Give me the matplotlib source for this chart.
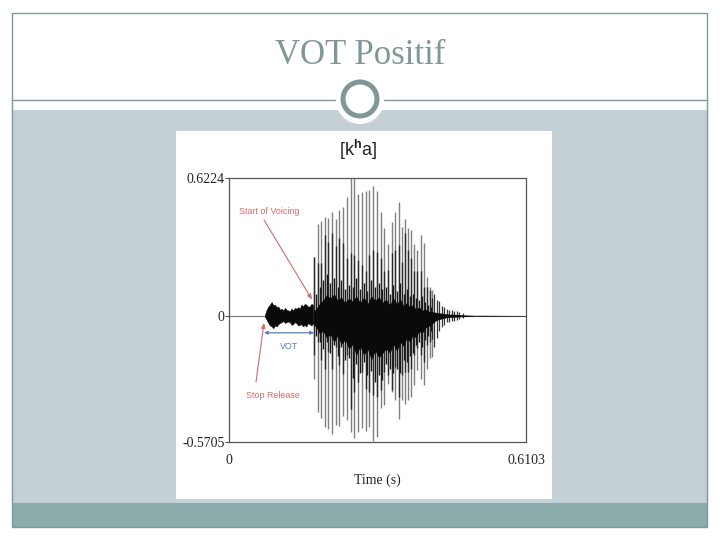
import matplotlib
matplotlib.use("Agg")
import matplotlib.pyplot as plt
from matplotlib.patches import Rectangle, Circle

plt.rcParams["mathtext.fontset"] = "custom"
plt.rcParams["mathtext.rm"] = "Liberation Sans"
plt.rcParams["mathtext.bf"] = "Liberation Sans:bold"

# ---- data: waveform (time in s, amplitude) ----
spike_t = [.1747,.1823,.1897,.1967,.2041,.2123,.2199,.2267,.2343,.2425,.2507,.2575,.2657,.2733,.2809,.2883,.2965,.3041,
           .3117,.3191,.3267,.3343,.3411,.3487,.3555,.3623,.3685,.3747,.3808,.3870,.3939,.4001,.4063,.4124,.4178]
spike_up = [.267,.415,.430,.448,.440,.468,.436,.478,.490,.535,.621,.621,.549,.561,.565,.568,.586,.565,
            .470,.395,.323,.425,.468,.516,.403,.436,.398,.386,.323,.298,.365,.328,.177,.132,.117]
spike_low = [-.284,-.435,-.462,-.503,-.510,-.533,-.495,-.498,-.453,-.473,-.525,-.553,-.525,-.507,-.522,-.503,-.568,-.548,
             -.417,-.402,-.307,-.344,-.382,-.465,-.382,-.397,-.382,-.367,-.314,-.246,-.284,-.314,-.239,-.193,-.186]
inner_up = [.267,.238,.238,.365,.335,.373,.313,.350,.328,.260,.283,.275,.253,.230,.200,.275,.298,.290,
            .260,.200,.207,.283,.298,.320,.245,.373,.298,.260,.200,.200,.200,.132,.132,.117,.080]
inner_low = [-.178,-.118,-.201,-.239,-.163,-.239,-.140,-.223,-.261,-.178,-.420,-.344,-.299,-.254,-.329,-.344,-.359,-.367,
             -.337,-.254,-.269,-.337,-.231,-.367,-.269,-.254,-.254,-.239,-.178,-.148,-.178,-.208,-.133,-.118,-.103]

mid_t = [.1785,.1860,.1932,.2004,.2082,.2161,.2233,.2305,.2384,.2466,.2541,.2616,.2695,.2771,.2846,.2924,.3003,.3079,
         .3154,.3229,.3305,.3377,.3449,.3521,.3589,.3654,.3716,.3778,.3839,.3905,.3970,.4032,.4094,.4151]
mid_up = [.10,.13,.16,.19,.15,.17,.13,.16,.12,.14,.13,.17,.12,.15,.11,.16,.13,.15,
          .12,.13,.10,.14,.11,.15,.10,.12,.09,.10,.08,.07,.09,.06,.05,.04]
mid_low = [-.09,-.12,-.15,-.12,-.17,-.13,-.18,-.14,-.20,-.19,-.28,-.22,-.26,-.21,-.27,-.25,-.30,-.27,
           -.29,-.22,-.24,-.26,-.24,-.26,-.20,-.21,-.18,-.17,-.13,-.12,-.14,-.11,-.09,-.07]

burst_t = [.0740,.0774,.0808,.0842,.0876,.0910,.0944,.0978,.1012,.1046,.1080,.1114,.1148,.1182,.1216,
           .1250,.1284,.1318,.1352,.1386,.1420,.1454,.1488,.1522,.1556,.1590,.1624,.1658,.1692,.1726]
burst_up = [.005,.027,.042,.050,.062,.047,.050,.038,.042,.027,.032,.023,.035,.027,.024,
            .020,.032,.024,.035,.032,.038,.032,.050,.042,.053,.050,.041,.042,.053,.050]
burst_low = [-.005,-.018,-.033,-.044,-.048,-.056,-.044,-.048,-.038,-.033,-.029,-.023,-.032,-.029,-.026,
             -.029,-.041,-.038,-.029,-.033,-.044,-.041,-.038,-.048,-.041,-.048,-.033,-.038,-.044,-.033]

body_t = [.1726,.1785,.1860,.1932,.2004,.2082,.2161,.2233,.2305,.2384,.2466,.2541,.2616,.2695,.2771,.2846,.2924,.3003,.3079,
          .3154,.3229,.3305,.3377,.3449,.3521,.3589,.3654,.3716,.3778,.3839,.3905,.3970,.4032,.4094,.4151,.4268,.4370,.4473,.4576,.4679,.4815,.4918,.5055,.5295,.6103]
body_up = [.02,.03,.055,.07,.095,.08,.10,.07,.085,.06,.08,.065,.09,.06,.085,.055,.09,.07,.085,
           .06,.075,.05,.08,.055,.075,.045,.06,.04,.05,.03,.04,.025,.03,.02,.02,.014,.012,.008,.007,.006,.004,.003,.002,.002,.001]
body_low = [-.04,-.05,-.08,-.07,-.10,-.085,-.12,-.09,-.13,-.11,-.15,-.13,-.18,-.14,-.18,-.15,-.20,-.16,-.19,
            -.17,-.15,-.17,-.13,-.16,-.12,-.14,-.10,-.12,-.09,-.10,-.07,-.08,-.055,-.05,-.04,-.020,-.014,-.008,-.007,-.006,-.004,-.003,-.002,-.002,-.001]

tail_t = [.4215,.4268,.4320,.4370,.4420,.4473,.4525,.4576,.4628,.4679,.4730,.4815]
tail_up = [.10,.07,.065,.045,.04,.03,.028,.025,.022,.02,.015,.012]
tail_low = [-.14,-.10,-.07,-.05,-.04,-.03,-.028,-.025,-.022,-.02,-.015,-.012]

y_ticks = [-0.5705, 0, 0.6224]
y_tick_labels = ["-0.5705", "0", "0.6224"]
x_tick_labels = ["0", "0.6103"]
x_limits = [0, 0.6103]

SLIDE = "#7f9a9a"
RED = "#d4696b"
BLUE = "#5b7fbe"
SERIF = "Liberation Serif"
SANS = ["Liberation Sans", "DejaVu Sans"]

fig = plt.figure(figsize=(7.2, 5.4), dpi=100)
bg = fig.add_axes([0, 0, 1, 1])
bg.set_xlim(0, 720); bg.set_ylim(540, 0); bg.axis("off")

bg.add_patch(Rectangle((12, 110), 695, 393, fc="#c5d0d6", ec="none"))
bg.add_patch(Rectangle((12, 503), 695, 24, fc="#8cabab", ec="none"))
bg.add_patch(Rectangle((12, 13), 695, 514, fc="none", ec=SLIDE, lw=1))
bg.plot([12, 707], [100, 100], color=SLIDE, lw=1)
bg.add_patch(Circle((360, 100), 24, fc="white", ec="none", zorder=3))
bg.add_patch(Circle((360, 99), 17, fc="white", ec="#7f9797", lw=3.6, zorder=4))
bg.add_patch(Rectangle((176, 131), 376, 368, fc="white", ec="none"))
bg.text(360, 55, "VOT Positif", family=SERIF, fontsize=25, color="#7f9797", ha="center", va="center")

ax = fig.add_axes([229/720, 1-442/540, 297/720, 264/540])
ax.set_xlim(*x_limits)
ax.set_ylim(y_ticks[0], y_ticks[-1])

ax.axhline(0, color="#777777", lw=0.8, zorder=1)
ax.vlines(spike_t, spike_low, spike_up, color="#808080", lw=1.0, zorder=2)
ax.vlines(spike_t, inner_low, inner_up, color="#2a2a2a", lw=1.0, zorder=3)
ax.vlines(mid_t, mid_low, mid_up, color="#1a1a1a", lw=1.0, zorder=3)
ax.vlines(tail_t, tail_low, tail_up, color="#333333", lw=0.9, zorder=3)
ax.fill_between(body_t, body_low, body_up, color="#0a0a0a", lw=0, zorder=4)
ax.fill_between(burst_t, burst_low, burst_up, color="#0a0a0a", lw=0.4, zorder=3)

for s in ax.spines.values():
    s.set_color("#555555"); s.set_linewidth(0.9)
ax.set_yticks(y_ticks, y_tick_labels, family=SERIF, fontsize=10, color="#222222")
ax.set_xticks(x_limits, x_tick_labels, family=SERIF, fontsize=10, color="#222222")
ax.tick_params(axis="y", length=3, width=0.8, color="#555555", pad=0)
ax.tick_params(axis="x", length=0, pad=9)
ax.set_xlabel("Time (s)", family=SERIF, fontsize=10, color="#222222")
ax.xaxis.set_label_coords(0.5, -0.12)
ax.text(0.434, 1.105, r"[k$^{\mathbf{h}}$a]", transform=ax.transAxes, family=SANS, fontsize=13,
        ha="center", va="center", color="#222222")

ax.text(0.0205, 0.47, "Start of Voicing", color=RED, family=SANS, fontsize=6.4, ha="left", va="center")
ax.annotate("", xy=(.1706, .073), xytext=(.0719, .433),
            arrowprops=dict(arrowstyle="-|>,head_width=0.12,head_length=0.3", color=RED, lw=0.8, shrinkA=0, shrinkB=0))
ax.text(.0904, -.361, "Stop Release", color=RED, family=SANS, fontsize=6.4, ha="center", va="center")
ax.annotate("", xy=(.0719, -.032), xytext=(.0555, -.299),
            arrowprops=dict(arrowstyle="-|>,head_width=0.12,head_length=0.3", color=RED, lw=0.8, shrinkA=0, shrinkB=0))
ax.text(.1233, -.140, "VOT", color=BLUE, family=SANS, fontsize=6.4, ha="center", va="center")
ax.annotate("", xy=(.1747, -.077), xytext=(.0719, -.077),
            arrowprops=dict(arrowstyle="<|-|>,head_width=0.1,head_length=0.2", color=BLUE, lw=0.9, shrinkA=0, shrinkB=0))

fig.savefig("out.png", dpi=100)
